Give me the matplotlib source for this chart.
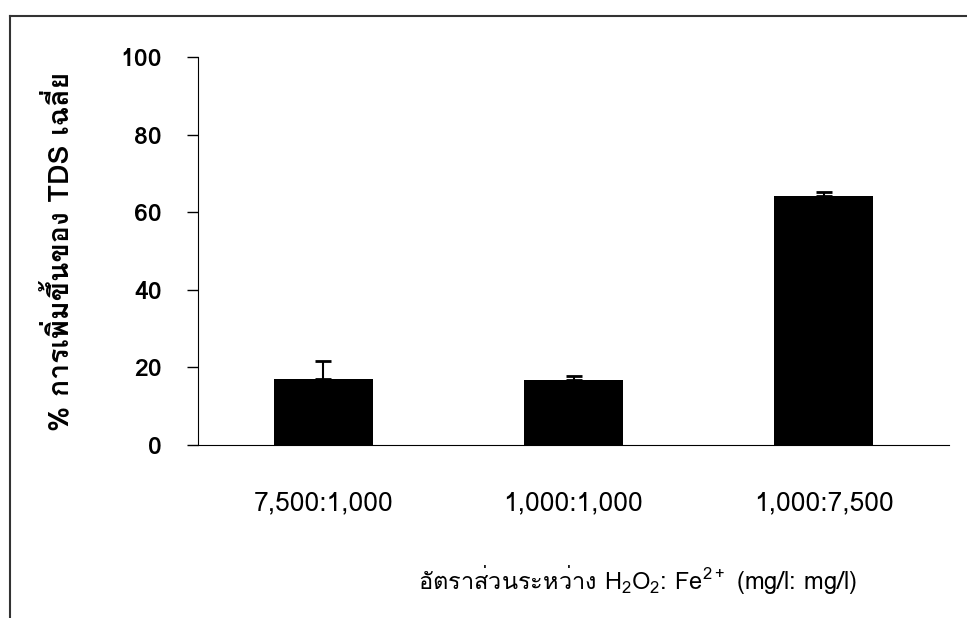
import matplotlib
matplotlib.use("Agg")
import matplotlib.pyplot as plt
from matplotlib.lines import Line2D

categories = ["7,500:1,000", "1,000:1,000", "1,000:7,500"]
values = [16.9, 16.8, 64.2]
errors = [4.8, 1.1, 1.0]
yticks = [0, 20, 40, 60, 80, 100]

families = ["Loma", "DejaVu Sans"]
plt.rcParams["font.family"] = families
plt.rcParams["mathtext.fontset"] = "custom"
plt.rcParams["mathtext.rm"] = "Loma"

fig = plt.figure(figsize=(9.67, 6.18), dpi=100)
ax = fig.add_axes([198 / 967, 1 - 445 / 618, (949 - 198) / 967, (445 - 57) / 618])

x = range(len(categories))
ax.bar(x, values, width=0.396, color="black",
       yerr=[[0] * len(errors), errors], capsize=6,
       error_kw=dict(ecolor="black", elinewidth=1.5, capthick=2))

ax.set_xlim(-0.5, 2.5)
ax.set_ylim(0, 100)
ax.set_yticks(yticks)
ax.set_yticklabels([str(t) for t in yticks], fontsize=18, fontweight="bold")
ax.set_xticks(list(x))
ax.set_xticklabels(categories, fontsize=19)
ax.tick_params(axis="x", length=0, pad=33)
ax.tick_params(axis="y", direction="out", length=8, width=1, pad=18)
ax.spines["top"].set_visible(False)
ax.spines["right"].set_visible(False)

ax.set_ylabel("% การเพิ่มขึ้นของ TDS เฉลี่ย", fontsize=20.5, fontweight="bold")
ax.yaxis.set_label_coords(-0.165, 0.5)

fig.text(637 / 967, 1 - 580 / 618,
         "อัตราส่วนระหว่าง H$_2$O$_2$: Fe$^{2+}$ (mg/l: mg/l)",
         ha="center", va="center", fontsize=17)

# scanned page border
fig.add_artist(Line2D([10 / 967, 1], [1 - 16 / 618] * 2, transform=fig.transFigure, color="#333333", lw=1.5))
fig.add_artist(Line2D([10 / 967] * 2, [0, 1 - 16 / 618], transform=fig.transFigure, color="#333333", lw=1.5))

fig.savefig("out.png", dpi=100)
